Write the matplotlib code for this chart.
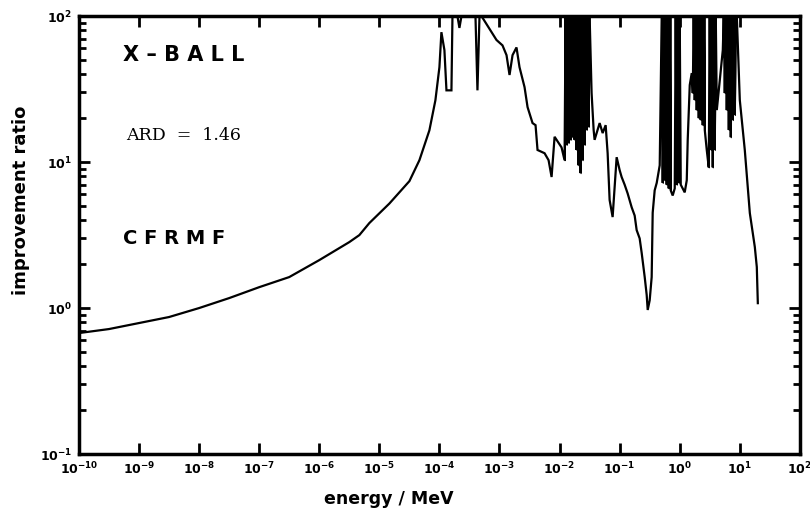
import numpy as np
import matplotlib
matplotlib.use("Agg")
import matplotlib.pyplot as plt
from matplotlib.ticker import LogLocator, FixedLocator, NullFormatter

# log10 of energy in MeV
log_energy = [
    -10.0, -9.5, -9.0, -8.5, -8.0, -7.5, -7.0, -6.5, -6.0, -5.5,
    -5.333, -5.167, -4.833, -4.667, -4.5, -4.333, -4.167, -4.067, -4.0, -3.967, -3.917, -3.883,
    -3.8, -3.783, -3.7, -3.667, -3.633, -3.4, -3.367, -3.333, -3.3, -3.2,
    -3.05, -2.95, -2.883, -2.833, -2.783, -2.717, -2.667, -2.583, -2.533, -2.45,
    -2.4, -2.367, -2.25, -2.183, -2.133, -2.083, -1.967, -1.917,
    -1.9, -1.883, -1.867, -1.85, -1.833, -1.817, -1.8, -1.783, -1.767, -1.75,
    -1.733, -1.717, -1.7, -1.683, -1.667, -1.65, -1.633, -1.617, -1.6, -1.583,
    -1.567, -1.55, -1.533, -1.517, -1.5,
    -1.467, -1.433, -1.417, -1.333, -1.283, -1.233, -1.2, -1.167, -1.117, -1.05,
    -1.0, -0.967, -0.917, -0.867, -0.8, -0.75, -0.717, -0.667, -0.633, -0.583,
    -0.55, -0.533, -0.5, -0.467, -0.45, -0.417, -0.383, -0.333,
    -0.3, -0.283, -0.267, -0.25, -0.233, -0.217, -0.2, -0.183, -0.167, -0.15,
    -0.117, -0.083, -0.067, -0.05, -0.033, -0.017, 0.0, 0.017, 0.05, 0.083,
    0.117, 0.133, 0.167, 0.2,
    0.217, 0.233, 0.25, 0.267, 0.283, 0.3, 0.317, 0.333, 0.35, 0.367,
    0.383, 0.4, 0.417, 0.45, 0.483, 0.5, 0.517, 0.533, 0.55, 0.567,
    0.583, 0.6, 0.617, 0.65, 0.683, 0.717,
    0.733, 0.75, 0.767, 0.783, 0.8, 0.817, 0.833, 0.85, 0.867, 0.883,
    0.9, 0.917, 0.933, 0.95, 1.0, 1.083, 1.167, 1.25, 1.283, 1.3,
]

ratio = [
    0.674, 0.718, 0.79, 0.868, 1.0, 1.17, 1.39, 1.63, 2.13, 2.83,
    3.16, 3.82, 5.2, 6.2, 7.4, 10.3, 16.5, 26.5, 44.7, 77.6, 58.5, 31.0,
    31.0, 100, 100, 83.0, 100, 100, 31.0, 100, 100, 86.0,
    68.6, 63.0, 54.0, 39.5, 54.0, 61.0, 44.7, 32.6, 23.8, 18.5,
    17.9, 12.1, 11.5, 10.3, 7.9, 14.9, 12.6, 10.3,
    100, 13.1, 100, 13.5, 100, 14.2, 100, 14.8, 100, 14.2,
    100, 12.1, 100, 9.5, 100, 8.4, 100, 10.3, 100, 13.1,
    100, 16.6, 100, 17.4, 100,
    29.7, 16.6, 14.2, 18.5, 15.8, 17.9, 11.5, 5.5, 4.2, 10.8,
    8.8, 7.9, 7.0, 6.1, 4.9, 4.3, 3.42, 3.0, 2.38, 1.63,
    1.23, 0.97, 1.13, 1.63, 4.5, 6.4, 7.2, 9.5,
    100, 7.2, 100, 7.5, 100, 7.0, 100, 6.6, 100, 6.4,
    5.9, 6.6, 100, 7.0, 100, 7.2, 100, 7.0, 6.6, 6.2,
    7.5, 14.2, 33.7, 40.7,
    29.7, 100, 26.6, 100, 22.7, 100, 20.0, 100, 19.4, 100,
    17.9, 100, 16.6, 12.1, 9.2, 100, 12.1, 100, 9.2, 100,
    12.1, 100, 22.7, 31.1, 42.7, 58.5,
    100, 29.7, 100, 22.7, 100, 16.6, 100, 14.8, 100, 19.4,
    100, 21.0, 100, 100, 26.6, 12.1, 4.47, 2.62, 1.91, 1.08,
]

# energy ranges (log10 MeV) where the scan is solid black up to the top
dense_bands = [(-1.917, -1.5), (-0.3, -0.15), (-0.067, 0.0),
               (0.217, 0.417), (0.483, 0.6), (0.717, 0.95)]

x_decades = list(range(-10, 3))
y_decades = [-1, 0, 1, 2]

log_e = np.array(log_energy)
energy = 10 ** log_e
ratio = np.array(ratio)

fig = plt.figure(figsize=(8.1, 5.11), dpi=100)
ax = fig.add_axes([0.0975, 0.1115, 0.89, 0.857])

ax.plot(energy, ratio, color="black", lw=1.6, solid_joinstyle="miter")
for lo, hi in dense_bands:
    m = (log_e >= lo - 1e-6) & (log_e <= hi + 1e-6)
    ax.fill_between(energy[m], ratio[m], 100, color="black", lw=0.8)

ax.set_xscale("log")
ax.set_yscale("log")
ax.set_xlim(1e-10, 1e2)
ax.set_ylim(1e-1, 1e2)

ax.xaxis.set_major_locator(FixedLocator([10.0 ** d for d in x_decades]))
ax.xaxis.set_minor_locator(FixedLocator([]))
ax.set_xticklabels([r"$\mathbf{10^{%d}}$" % d for d in x_decades])
ax.yaxis.set_major_locator(FixedLocator([10.0 ** d for d in y_decades]))
ax.yaxis.set_minor_locator(LogLocator(base=10, subs=np.arange(2, 10)))
ax.yaxis.set_minor_formatter(NullFormatter())
ax.set_yticklabels([r"$\mathbf{10^{%d}}$" % d for d in y_decades])

ax.tick_params(which="major", direction="in", length=8, width=2,
               top=True, right=True, labelsize=9, pad=5)
ax.tick_params(which="minor", direction="in", length=5, width=2,
               right=True, left=True)
for s in ax.spines.values():
    s.set_linewidth(2.5)

ax.set_xlabel("energy / MeV", fontsize=12.5, fontweight="bold")
ax.xaxis.set_label_coords(0.43, -0.082)
ax.set_ylabel("improvement ratio", fontsize=13, fontweight="bold")
ax.yaxis.set_label_coords(-0.068, 0.58)

ax.text(0.061, 0.911, "X – B A L L", transform=ax.transAxes,
        fontsize=15, fontweight="bold", va="center", ha="left")
ax.text(0.065, 0.728, "ARD  =  1.46", transform=ax.transAxes,
        fontsize=12.5, family="DejaVu Serif", va="center", ha="left")
ax.text(0.061, 0.493, "C F R M F", transform=ax.transAxes,
        fontsize=14, fontweight="bold", va="center", ha="left")

fig.savefig("out.png", dpi=100)
